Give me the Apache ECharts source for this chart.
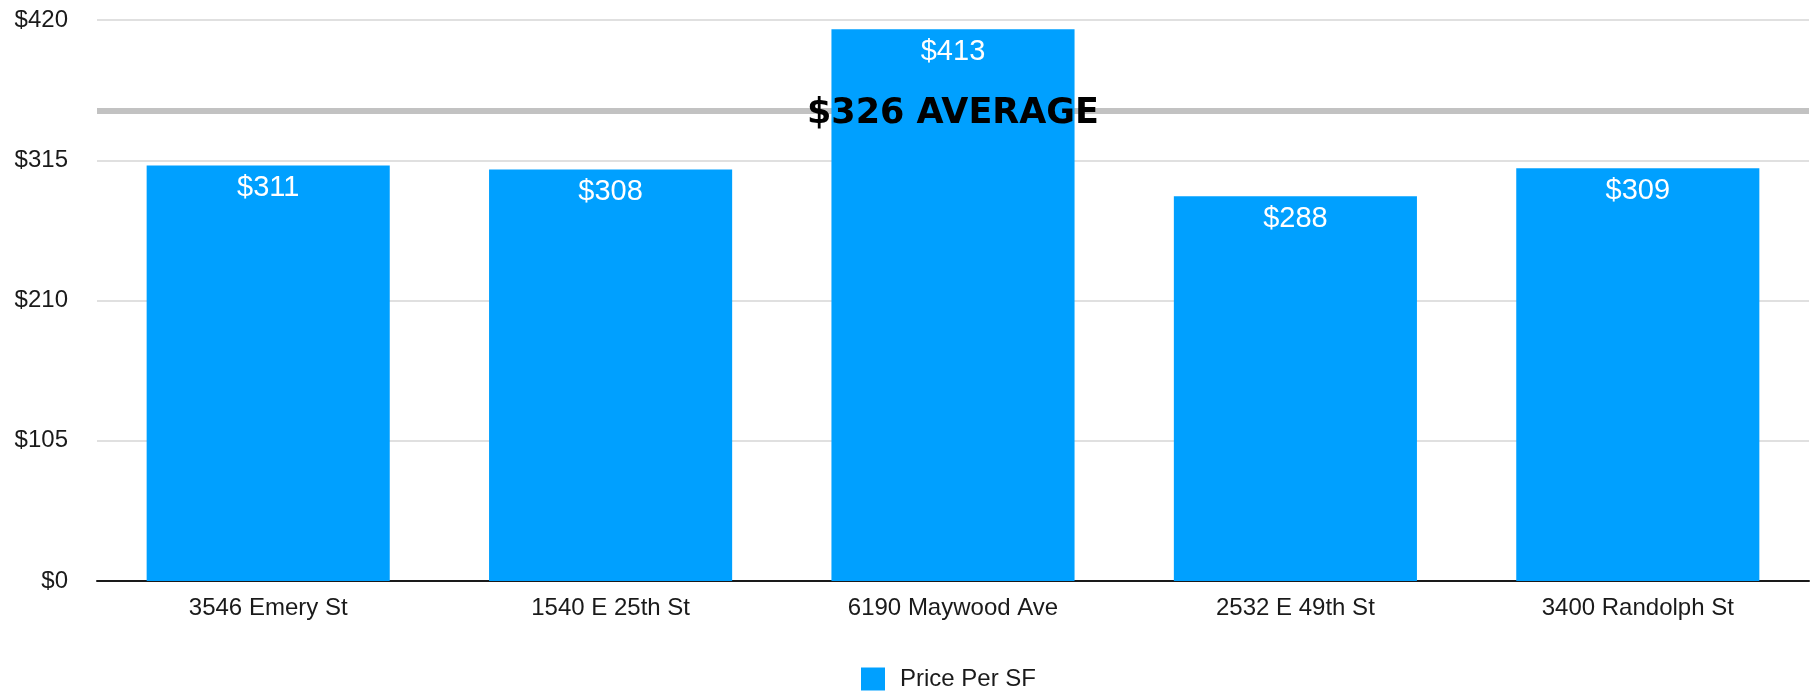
<!DOCTYPE html>
<html>
<head>
<meta charset="utf-8">
<script src="https://cdn.jsdelivr.net/npm/echarts@6/dist/echarts.min.js"></script>
<style>
  html, body { margin: 0; padding: 0; background: #fff; }
  #main { width: 1815px; height: 694px; }
</style>
</head>
<body>
<div id="main"></div>
<script>
// 数据
var categories = ['3546 Emery St', '1540 E 25th St', '6190 Maywood Ave', '2532 E 49th St', '3400 Randolph St'];
var pricePerSF = [311, 308, 413, 288, 309];
var yTicks = [0, 105, 210, 315, 420];
var averageText = 326;     // value printed in the label
var averageLineAt = 352;   // where the grey line sits in the picture

var barColor = '#00a0ff';
var baseFont = '"Liberation Sans", Arial, Helvetica, sans-serif';

var option = {
    animation: false,
    grid: {
        left: 97,
        right: 6,
        top: 20,
        bottom: 113
    },
    legend: {
        data: ['Price Per SF'],
        left: 856,
        top: 662,
        itemWidth: 24,
        itemHeight: 23,
        icon: 'rect',
        textStyle: {
            fontFamily: baseFont,
            fontSize: 24,
            color: '#1a1a1a',
            padding: [0, 0, 0, 10]
        }
    },
    xAxis: {
        type: 'category',
        data: categories,
        axisLine: { lineStyle: { color: '#1a1a1a', width: 2 } },
        axisTick: { show: false },
        axisLabel: {
            margin: 15,
            fontFamily: baseFont,
            fontSize: 24,
            color: '#1a1a1a'
        }
    },
    yAxis: {
        type: 'value',
        min: yTicks[0],
        max: yTicks[yTicks.length - 1],
        interval: yTicks[1] - yTicks[0],
        axisLine: { show: false },
        axisTick: { show: false },
        splitLine: { lineStyle: { color: '#d6d6d6', width: 1.5 } },
        axisLabel: {
            margin: 29,
            fontFamily: baseFont,
            fontSize: 24,
            color: '#1a1a1a',
            formatter: function (v) { return '$' + v; }
        }
    },
    series: [
        {
            name: 'avgLine',
            type: 'line',
            z: 1,
            data: [null, null, null, null, null],
            silent: true,
            markLine: {
                z: 1,
                symbol: 'none',
                silent: true,
                label: { show: false },
                lineStyle: { color: '#c2c2c2', width: 6, type: 'solid' },
                data: [{ yAxis: averageLineAt }]
            }
        },
        {
            name: 'Price Per SF',
            type: 'bar',
            z: 2,
            data: pricePerSF,
            barCategoryGap: '29%',
            itemStyle: { color: barColor },
            label: {
                show: true,
                position: 'insideTop',
                distance: 8,
                fontFamily: baseFont,
                fontSize: 29,
                color: '#ffffff',
                formatter: function (p) { return '$' + p.value; }
            }
        },
        {
            name: 'avgLabel',
            type: 'line',
            z: 10,
            data: [null, null, null, null, null],
            silent: true,
            markLine: {
                z: 10,
                symbol: 'none',
                silent: true,
                lineStyle: { color: 'rgba(0,0,0,0)', width: 1 },
                label: {
                    show: true,
                    position: 'middle',
                    distance: 0,
                    verticalAlign: 'middle',
                    offset: [0, 3],
                    fontFamily: '"DejaVu Sans", Verdana, sans-serif',
                    fontWeight: 'bold',
                    fontSize: 35,
                    color: '#000000',
                    formatter: '$' + averageText + ' AVERAGE'
                },
                data: [{ yAxis: averageLineAt }]
            }
        }
    ]
};

var chart = echarts.init(document.getElementById('main'));
chart.setOption(option);
window.addEventListener('resize', chart.resize);
</script>
</body>
</html>
